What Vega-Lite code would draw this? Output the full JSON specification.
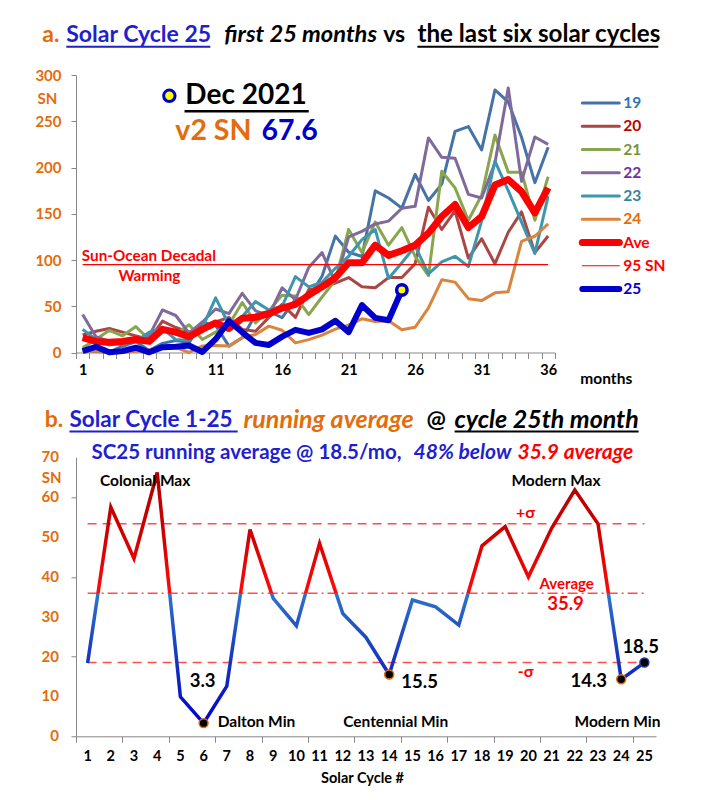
{
"$schema": "https://vega.github.io/schema/vega-lite/v6.json",
"background": "white",
"padding": {"left": 34, "top": 22, "right": 5, "bottom": 5},
"bounds": "flush",
"spacing": 104.3,
"config": {"font": "Lato", "view": {"stroke": null},
           "axis": {"labelOverlap": false, "labelFlush": false, "labelBound": false, "grid": false}},
"vconcat": [
{
 "width": 478.8,
 "height": 277.5,
 "layer": [
  {
   "data": {"values": [{}]},
   "mark": {"type": "point", "opacity": 0},
   "encoding": {
    "x": {"datum": 1, "type": "quantitative",
          "axis": {"orient": "bottom", "title": null, "labels": false, "ticks": true, "tickSize": 6, "domain": true,
                   "domainColor": "#888888", "tickColor": "#888888",
                   "values": [0.5,1.5,2.5,3.5,4.5,5.5,6.5,7.5,8.5,9.5,10.5,11.5,12.5,13.5,14.5,15.5,16.5,17.5,18.5,19.5,20.5,21.5,22.5,23.5,24.5,25.5,26.5,27.5,28.5,29.5,30.5,31.5,32.5,33.5,34.5,35.5,36.5]}},
    "y": {"datum": 0, "type": "quantitative", "axis": null}
   }
  },
  {
   "data": {"values": [
    {"month":1,"c19":2.5,"c20":19,"c21":5,"c22":41,"c23":25,"c24":1.7,"ave":16,"c25":1.5},
    {"month":2,"c19":1.1,"c20":23,"c21":14,"c22":17,"c23":14,"c24":1.3,"ave":12,"c25":6.2},
    {"month":3,"c19":0.3,"c20":26,"c21":24,"c22":12,"c23":8,"c24":1.2,"ave":11,"c25":0.2},
    {"month":4,"c19":6.8,"c20":22,"c21":18,"c22":8,"c23":10,"c24":0.6,"ave":12,"c25":1.5},
    {"month":5,"c19":11.8,"c20":18,"c21":28,"c22":12,"c23":12,"c24":1.2,"ave":14,"c25":5.2},
    {"month":6,"c19":2.1,"c20":14,"c21":14,"c22":18,"c23":22,"c24":2.9,"ave":12,"c25":0.2},
    {"month":7,"c19":9.9,"c20":34,"c21":25,"c22":46,"c23":26,"c24":6.3,"ave":25,"c25":5.8},
    {"month":8,"c19":13.0,"c20":27,"c21":20,"c22":40,"c23":14,"c24":5.5,"ave":22,"c25":6.1},
    {"month":9,"c19":10.7,"c20":22,"c21":30,"c22":21,"c23":13,"c24":0.0,"ave":17,"c25":7.5},
    {"month":10,"c19":32.6,"c20":28,"c21":14,"c22":33,"c23":27,"c24":7.1,"ave":25,"c25":0.6},
    {"month":11,"c19":29.3,"c20":33,"c21":22,"c22":47,"c23":59,"c24":7.7,"ave":32,"c25":14.4},
    {"month":12,"c19":6.9,"c20":38,"c21":30,"c22":42,"c23":30,"c24":6.9,"ave":26,"c25":34.0},
    {"month":13,"c19":15.9,"c20":25,"c21":54,"c22":64,"c23":39,"c24":16.3,"ave":37,"c25":21.8},
    {"month":14,"c19":40.7,"c20":23,"c21":32,"c22":45,"c23":55,"c24":19.5,"ave":38,"c25":10.4},
    {"month":15,"c19":44.7,"c20":38,"c21":45,"c22":40,"c23":46,"c24":28.5,"ave":42,"c25":8.2},
    {"month":16,"c19":37.6,"c20":52,"c21":62,"c22":70,"c23":50,"c24":24.0,"ave":48,"c25":17.2},
    {"month":17,"c19":57.4,"c20":38,"c21":61,"c22":57,"c23":82,"c24":10.4,"ave":52,"c25":24.5},
    {"month":18,"c19":60.2,"c20":68,"c21":41,"c22":92,"c23":71,"c24":13.9,"ave":62,"c25":21.2},
    {"month":19,"c19":82.5,"c20":70,"c21":60,"c22":108,"c23":76,"c24":18.8,"ave":71,"c25":25.0},
    {"month":20,"c19":125.8,"c20":75,"c21":78,"c22":76,"c23":91,"c24":25.2,"ave":81,"c25":34.3},
    {"month":21,"c19":108.4,"c20":81,"c21":133,"c22":125,"c23":104,"c24":29.6,"ave":97,"c25":22.0},
    {"month":22,"c19":103.8,"c20":71,"c21":108,"c22":131,"c23":122,"c24":36.4,"ave":97,"c25":51.3},
    {"month":23,"c19":174.8,"c20":70,"c21":141,"c22":139,"c23":133,"c24":33.6,"ave":116,"c25":37.4},
    {"month":24,"c19":167.0,"c20":81,"c21":116,"c22":142,"c23":80,"c24":34.4,"ave":105,"c25":34.8},
    {"month":25,"c19":156.1,"c20":81,"c21":135,"c22":156,"c23":97,"c24":24.5,"ave":110,"c25":67.6},
    {"month":26,"c19":192.6,"c20":96,"c21":104,"c22":158,"c23":115,"c24":27.3,"ave":116},
    {"month":27,"c19":164.4,"c20":157,"c21":83,"c22":232,"c23":85,"c24":48.3,"ave":129},
    {"month":28,"c19":182.0,"c20":133,"c21":196,"c22":211,"c23":98,"c24":78.6,"ave":147},
    {"month":29,"c19":239.1,"c20":153,"c21":178,"c22":210,"c23":104,"c24":76.1,"ave":160},
    {"month":30,"c19":244.2,"c20":102,"c21":143,"c22":171,"c23":93,"c24":58.2,"ave":135},
    {"month":31,"c19":219.0,"c20":123,"c21":170,"c22":167,"c23":142,"c24":56.1,"ave":147},
    {"month":32,"c19":283.8,"c20":96,"c21":235,"c22":205,"c23":207,"c24":64.5,"ave":181},
    {"month":33,"c19":270.9,"c20":130,"c21":195,"c22":286,"c23":175,"c24":65.8,"ave":187},
    {"month":34,"c19":232.7,"c20":152,"c21":195,"c22":185,"c23":141,"c24":120.1,"ave":174},
    {"month":35,"c19":183.6,"c20":108,"c21":143,"c22":233,"c23":107,"c24":125.7,"ave":151},
    {"month":36,"c19":221.9,"c20":126,"c21":190,"c22":225,"c23":169,"c24":139.1,"ave":178}
   ]},
   "layer": [
    {
     "transform": [{"fold": ["c19","c20","c21","c22","c23","c24"], "as": ["cycle","sn"]}],
     "mark": {"type": "line", "strokeWidth": 3, "strokeJoin": "round"},
     "encoding": {
      "x": {"field": "month", "type": "quantitative", "title": null,
            "scale": {"domain": [0.5, 36.5], "nice": false, "zero": false},
            "axis": {"orient": "bottom", "values": [1,6,11,16,21,26,31,36],
                     "ticks": false, "tickSize": 0, "domain": false, "grid": false,
                     "labelFontSize": 14.5, "labelFontWeight": "bold", "labelColor": "black",
                     "labelPadding": 11}},
      "y": {"field": "sn", "type": "quantitative", "title": null,
            "scale": {"domain": [0, 300], "nice": false},
            "axis": {"values": [0,50,100,150,200,250,300], "grid": false, "tickSize": 5,
                     "labelFontSize": 15, "labelFontWeight": "bold", "labelColor": "#e46c0a",
                     "labelPadding": 10, "domainColor": "#888888", "tickColor": "#888888"}},
      "color": {"field": "cycle", "type": "nominal", "legend": null,
                "scale": {"domain": ["c19","c20","c21","c22","c23","c24"],
                          "range": ["#4572a7","#aa4643","#89a54e","#80699b","#3d96ae","#db843d"]}}
     }
    },
    {
     "data": {"values": [{}]},
     "mark": {"type": "rule", "color": "#ff0000", "strokeWidth": 1.2},
     "encoding": {"x": {"datum": 1}, "x2": {"datum": 36}, "y": {"datum": 95}}
    },
    {
     "mark": {"type": "line", "strokeWidth": 7, "color": "#ff0000", "strokeJoin": "round"},
     "encoding": {"x": {"field": "month", "type": "quantitative", "title": null},
                  "y": {"field": "ave", "type": "quantitative", "title": null}}
    },
    {
     "transform": [{"filter": "isValid(datum.c25)"}],
     "mark": {"type": "line", "strokeWidth": 6, "color": "#0000cc", "strokeJoin": "round"},
     "encoding": {"x": {"field": "month", "type": "quantitative", "title": null},
                  "y": {"field": "c25", "type": "quantitative", "title": null}}
    },
    {
     "transform": [{"filter": "datum.month == 25"}],
     "mark": {"type": "point", "filled": true, "fill": "#ffff00", "stroke": "#0000cc", "strokeWidth": 3.5, "size": 110, "opacity": 1},
     "encoding": {"x": {"field": "month", "type": "quantitative", "title": null},
                  "y": {"field": "c25", "type": "quantitative", "title": null}}
    },
    {
     "data": {"values": [{}]},
     "mark": {"type": "point", "filled": true, "fill": "#ffff00", "stroke": "#0000cc", "strokeWidth": 3, "size": 130, "opacity": 1},
     "encoding": {"x": {"datum": 7.52}, "y": {"datum": 277.5}}
    },
    {
     "data": {"values": [{}]},
     "mark": {"type": "text", "text": "Dec 2021", "align": "left", "baseline": "middle", "fontSize": 28, "fontWeight": "bold", "color": "black"},
     "encoding": {"x": {"datum": 8.72}, "y": {"datum": 277.5}}
    },
    {
     "data": {"values": [{}]},
     "mark": {"type": "rule", "color": "black", "strokeWidth": 2.5},
     "encoding": {"x": {"datum": 8.66}, "x2": {"datum": 18.0}, "y": {"datum": 260.8}}
    },
    {
     "data": {"values": [{}]},
     "mark": {"type": "text", "text": "v2 SN", "align": "left", "baseline": "middle", "fontSize": 28.5, "fontWeight": "bold", "color": "#e46c0a"},
     "encoding": {"x": {"datum": 7.97}, "y": {"datum": 239.7}}
    },
    {
     "data": {"values": [{}]},
     "mark": {"type": "text", "text": "67.6", "align": "left", "baseline": "middle", "fontSize": 28.5, "fontWeight": "bold", "color": "#0000cc"},
     "encoding": {"x": {"datum": 14.45}, "y": {"datum": 239.7}}
    },
    {
     "data": {"values": [{}]},
     "mark": {"type": "text", "text": "Sun-Ocean Decadal", "align": "center", "baseline": "middle", "fontSize": 15.3, "fontWeight": "bold", "color": "#ff0000"},
     "encoding": {"x": {"datum": 5.98}, "y": {"datum": 104}}
    },
    {
     "data": {"values": [{}]},
     "mark": {"type": "text", "text": "Warming", "align": "center", "baseline": "middle", "fontSize": 15.3, "fontWeight": "bold", "color": "#ff0000"},
     "encoding": {"x": {"datum": 6.02}, "y": {"datum": 83}}
    },
    {
     "data": {"values": [{}]},
     "mark": {"type": "text", "text": "SN", "align": "center", "baseline": "middle", "fontSize": 15, "fontWeight": "bold", "color": "#e46c0a"},
     "encoding": {"x": {"datum": -1.65}, "y": {"datum": 274}}
    },
    {
     "data": {"values": [{}]},
     "mark": {"type": "text", "text": "months", "align": "center", "baseline": "middle", "fontSize": 15.5, "fontWeight": "bold", "color": "black"},
     "encoding": {"x": {"datum": 40.37}, "y": {"datum": -28.4}}
    },
    {
     "data": {"values": [{}]},
     "mark": {"type": "text", "text": "a.", "align": "left", "baseline": "middle", "fontSize": 23, "fontWeight": "bold", "color": "#e46c0a"},
     "encoding": {"x": {"datum": -2.03}, "y": {"datum": 343.5}}
    },
    {
     "data": {"values": [{}]},
     "mark": {"type": "text", "text": "Solar Cycle 25", "align": "left", "baseline": "middle", "fontSize": 23, "fontWeight": "bold", "color": "#1f1fcf"},
     "encoding": {"x": {"datum": -0.23}, "y": {"datum": 343.5}}
    },
    {
     "data": {"values": [{}]},
     "mark": {"type": "text", "text": "first 25 months", "align": "left", "baseline": "middle", "fontSize": 23.7, "fontWeight": "bold", "fontStyle": "italic", "color": "black"},
     "encoding": {"x": {"datum": 11.65}, "y": {"datum": 343.5}}
    },
    {
     "data": {"values": [{}]},
     "mark": {"type": "text", "text": "vs", "align": "left", "baseline": "middle", "fontSize": 23, "fontWeight": "bold", "color": "black"},
     "encoding": {"x": {"datum": 23.6}, "y": {"datum": 343.5}}
    },
    {
     "data": {"values": [{}]},
     "mark": {"type": "text", "text": "the last six solar cycles", "align": "left", "baseline": "middle", "fontSize": 24.2, "fontWeight": "bold", "color": "black"},
     "encoding": {"x": {"datum": 26.17}, "y": {"datum": 343.5}}
    },
    {
     "data": {"values": [{}]},
     "mark": {"type": "rule", "color": "#1f1fcf", "strokeWidth": 2},
     "encoding": {"x": {"datum": -0.23}, "x2": {"datum": 10.6}, "y": {"datum": 330.5}}
    },
    {
     "data": {"values": [{}]},
     "mark": {"type": "rule", "color": "black", "strokeWidth": 2},
     "encoding": {"x": {"datum": 26.17}, "x2": {"datum": 44.28}, "y": {"datum": 330.5}}
    }
   ]
  },
  {
   "data": {"values": [{"name":"19"},{"name":"20"},{"name":"21"},{"name":"22"},{"name":"23"},{"name":"24"},{"name":"Ave"},{"name":"95 SN"},{"name":"25"}]},
   "layer": [
    {
     "mark": {"type": "rule", "strokeCap": "round"},
     "encoding": {
      "x": {"datum": 38.57, "axis": null}, "x2": {"datum": 41.35},
      "y": {"field": "name", "type": "nominal", "axis": null,
            "scale": {"type": "point", "padding": 0, "domain": ["19","20","21","22","23","24","Ave","95 SN","25"], "range": [28, 214]}},
      "color": {"field": "name", "type": "nominal", "legend": null,
                "scale": {"type": "ordinal", "domain": ["19","20","21","22","23","24","Ave","95 SN","25"],
                          "range": ["#4572a7","#aa4643","#89a54e","#80699b","#3d96ae","#db843d","#ff0000","#ff0000","#0000cc"]}},
      "strokeWidth": {"field": "name", "type": "nominal", "legend": null,
                "scale": {"type": "ordinal", "domain": ["19","20","21","22","23","24","Ave","95 SN","25"],
                          "range": [3,3,3,3,3,3,7,1.2,6]}}
     }
    },
    {
     "mark": {"type": "text", "align": "left", "baseline": "middle", "fontSize": 15.5, "fontWeight": "bold"},
     "encoding": {
      "x": {"datum": 41.65, "axis": null},
      "y": {"field": "name", "type": "nominal", "axis": null},
      "text": {"field": "name"},
      "color": {"field": "name", "type": "nominal", "legend": null,
                "scale": {"type": "ordinal", "domain": ["19","20","21","22","23","24","Ave","95 SN","25"],
                          "range": ["#2e75b6","#c00000","#77933c","#7030a0","#31859c","#e36c09","#ff0000","#ff0000","#0000cc"]}}
     }
    }
   ],
   "resolve": {"scale": {"color": "independent"}}
  }
 ],
 "resolve": {"scale": {"y": "independent", "color": "independent"}, "axis": {"x": "independent"}}
},
{
 "width": 580,
 "height": 279,
 "layer": [
  {
   "data": {"values": [{"level": 53.3}, {"level": 18.5}]},
   "mark": {"type": "rule", "color": "#ff4d4d", "strokeWidth": 1.5, "strokeDash": [9, 6]},
   "encoding": {"y": {"field": "level", "type": "quantitative", "title": null}, "x": {"datum": 1}, "x2": {"datum": 25}}
  },
  {
   "data": {"values": [{"level": 35.9}]},
   "mark": {"type": "rule", "color": "#ff4d4d", "strokeWidth": 1.5, "strokeDash": [10, 4, 2, 4]},
   "encoding": {"y": {"field": "level", "type": "quantitative", "title": null}, "x": {"datum": 1}, "x2": {"datum": 25}}
  },
  {
   "data": {"name": "running"},
   "mark": {"type": "line", "strokeWidth": 3.5,
            "color": {"gradient": "linear", "x1": 0, "y1": 0, "x2": 0, "y2": 1,
                      "stops": [{"offset": 0, "color": "#b00000"}, {"offset": 0.25, "color": "#d00000"},
                                {"offset": 0.481, "color": "#ff0a0a"}, {"offset": 0.482, "color": "#2f74c8"},
                                {"offset": 0.7, "color": "#1a40c0"}, {"offset": 1, "color": "#0000cc"}]}},
   "encoding": {
    "x": {"field": "cycle", "type": "quantitative", "title": null,
          "scale": {"domain": [0.5, 25.5], "nice": false, "zero": false},
          "axis": {"orient": "bottom", "title": null, "labels": false, "ticks": true, "tickSize": 6, "domain": true,
                   "domainColor": "#888888", "tickColor": "#888888", "grid": false,
                   "values": [0.5,1.5,2.5,3.5,4.5,5.5,6.5,7.5,8.5,9.5,10.5,11.5,12.5,13.5,14.5,15.5,16.5,17.5,18.5,19.5,20.5,21.5,22.5,23.5,24.5,25.5]}},
    "y": {"field": "sn", "type": "quantitative", "title": null,
          "scale": {"domain": [0, 70], "nice": false},
          "axis": {"orient": "left", "title": null, "labels": false, "ticks": true, "tickSize": 5, "domain": true,
                   "domainColor": "#888888", "tickColor": "#888888", "grid": false,
                   "values": [0,5,10,15,20,25,30,35,40,45,50,55,60,65,70]}}
   }
  },
  {
   "data": {"name": "running"},
   "mark": {"type": "text", "align": "center", "baseline": "middle", "fontSize": 14.5, "fontWeight": "bold", "color": "black"},
   "encoding": {"x": {"field": "cycle", "type": "quantitative"}, "y": {"datum": -5.27}, "text": {"field": "cycle", "type": "quantitative"}}
  },
  {
   "data": {"values": [{"tick": 0}, {"tick": 10}, {"tick": 20}, {"tick": 30}, {"tick": 40}, {"tick": 50}, {"tick": 60}, {"tick": 70}]},
   "mark": {"type": "text", "align": "right", "baseline": "middle", "fontSize": 15, "fontWeight": "bold", "color": "#e46c0a"},
   "encoding": {"x": {"datum": -0.24}, "y": {"field": "tick", "type": "quantitative"}, "text": {"field": "tick", "type": "quantitative"}}
  },
  {"data": {"values": [{}]}, "mark": {"type": "text", "text": "Solar Cycle #", "align": "center", "baseline": "middle", "fontSize": 14.5, "fontWeight": "bold", "color": "black"},
   "encoding": {"x": {"datum": 12.85}, "y": {"datum": -10.8}}},
  {
   "data": {"name": "running"},
   "transform": [{"filter": "datum.cycle == 6 || datum.cycle == 14 || datum.cycle == 24"}],
   "mark": {"type": "point", "filled": true, "fill": "black", "stroke": "#e46c0a", "strokeWidth": 1.5, "size": 80, "opacity": 1},
   "encoding": {"x": {"field": "cycle", "type": "quantitative"}, "y": {"field": "sn", "type": "quantitative"}}
  },
  {
   "data": {"name": "running"},
   "transform": [{"filter": "datum.cycle == 25"}],
   "mark": {"type": "point", "filled": true, "fill": "black", "stroke": "#1f3a93", "strokeWidth": 1.5, "size": 80, "opacity": 1},
   "encoding": {"x": {"field": "cycle", "type": "quantitative"}, "y": {"field": "sn", "type": "quantitative"}}
  },
  {"data": {"values": [{}]}, "mark": {"type": "text", "text": "Colonial Max", "align": "center", "baseline": "middle", "fontSize": 15.5, "fontWeight": "bold", "color": "black"},
   "encoding": {"x": {"datum": 3.48}, "y": {"datum": 64.0}}},
  {"data": {"values": [{}]}, "mark": {"type": "text", "text": "Modern Max", "align": "center", "baseline": "middle", "fontSize": 15.5, "fontWeight": "bold", "color": "black"},
   "encoding": {"x": {"datum": 21.19}, "y": {"datum": 64.0}}},
  {"data": {"values": [{}]}, "mark": {"type": "text", "text": "+σ", "align": "center", "baseline": "middle", "fontSize": 16, "fontWeight": "bold", "color": "#ff0000"},
   "encoding": {"x": {"datum": 19.88}, "y": {"datum": 55.9}}},
  {"data": {"values": [{}]}, "mark": {"type": "text", "text": "Average", "align": "center", "baseline": "middle", "fontSize": 15, "fontWeight": "bold", "color": "#ff0000"},
   "encoding": {"x": {"datum": 21.65}, "y": {"datum": 38.1}}},
  {"data": {"values": [{}]}, "mark": {"type": "text", "text": "35.9", "align": "center", "baseline": "middle", "fontSize": 18.5, "fontWeight": "bold", "color": "#ff0000"},
   "encoding": {"x": {"datum": 21.6}, "y": {"datum": 33.1}}},
  {"data": {"values": [{}]}, "mark": {"type": "text", "text": "-σ", "align": "center", "baseline": "middle", "fontSize": 16, "fontWeight": "bold", "color": "#ff0000"},
   "encoding": {"x": {"datum": 19.88}, "y": {"datum": 16.1}}},
  {"data": {"values": [{}]}, "mark": {"type": "text", "text": "3.3", "align": "center", "baseline": "middle", "fontSize": 18.5, "fontWeight": "bold", "color": "black"},
   "encoding": {"x": {"datum": 5.96}, "y": {"datum": 13.8}}},
  {"data": {"values": [{}]}, "mark": {"type": "text", "text": "Dalton Min", "align": "center", "baseline": "middle", "fontSize": 15.5, "fontWeight": "bold", "color": "black"},
   "encoding": {"x": {"datum": 8.28}, "y": {"datum": 3.6}}},
  {"data": {"values": [{}]}, "mark": {"type": "text", "text": "Centennial Min", "align": "center", "baseline": "middle", "fontSize": 15.5, "fontWeight": "bold", "color": "black"},
   "encoding": {"x": {"datum": 14.28}, "y": {"datum": 3.6}}},
  {"data": {"values": [{}]}, "mark": {"type": "text", "text": "15.5", "align": "center", "baseline": "middle", "fontSize": 18.5, "fontWeight": "bold", "color": "black"},
   "encoding": {"x": {"datum": 15.31}, "y": {"datum": 13.6}}},
  {"data": {"values": [{}]}, "mark": {"type": "text", "text": "14.3", "align": "center", "baseline": "middle", "fontSize": 18.5, "fontWeight": "bold", "color": "black"},
   "encoding": {"x": {"datum": 22.6}, "y": {"datum": 14.0}}},
  {"data": {"values": [{}]}, "mark": {"type": "text", "text": "18.5", "align": "center", "baseline": "middle", "fontSize": 18.5, "fontWeight": "bold", "color": "black"},
   "encoding": {"x": {"datum": 24.84}, "y": {"datum": 22.4}}},
  {"data": {"values": [{}]}, "mark": {"type": "text", "text": "Modern Min", "align": "center", "baseline": "middle", "fontSize": 15.5, "fontWeight": "bold", "color": "black"},
   "encoding": {"x": {"datum": 23.84}, "y": {"datum": 3.6}}},
  {"data": {"values": [{}]}, "mark": {"type": "text", "text": "b.", "align": "left", "baseline": "middle", "fontSize": 23, "fontWeight": "bold", "color": "#e46c0a"},
   "encoding": {"x": {"datum": -0.85}, "y": {"datum": 79.3}}},
  {"data": {"values": [{}]}, "mark": {"type": "text", "text": "Solar Cycle 1-25", "align": "left", "baseline": "middle", "fontSize": 22.5, "fontWeight": "bold", "color": "#1f1fcf"},
   "encoding": {"x": {"datum": 0.22}, "y": {"datum": 79.3}}},
  {"data": {"values": [{}]}, "mark": {"type": "text", "text": "running average", "align": "left", "baseline": "middle", "fontSize": 25, "fontWeight": "bold", "fontStyle": "italic", "color": "#e46c0a"},
   "encoding": {"x": {"datum": 7.72}, "y": {"datum": 79.3}}},
  {"data": {"values": [{}]}, "mark": {"type": "text", "text": "@", "align": "left", "baseline": "middle", "fontSize": 23, "fontWeight": "bold", "color": "black"},
   "encoding": {"x": {"datum": 15.61}, "y": {"datum": 79.3}}},
  {"data": {"values": [{}]}, "mark": {"type": "text", "text": "cycle 25th month", "align": "left", "baseline": "middle", "fontSize": 25, "fontWeight": "bold", "fontStyle": "italic", "color": "black"},
   "encoding": {"x": {"datum": 16.82}, "y": {"datum": 79.3}}},
  {"data": {"values": [{}]}, "mark": {"type": "rule", "color": "#1f1fcf", "strokeWidth": 2},
   "encoding": {"x": {"datum": 0.22}, "x2": {"datum": 7.47}, "y": {"datum": 76.5}}},
  {"data": {"values": [{}]}, "mark": {"type": "rule", "color": "black", "strokeWidth": 2},
   "encoding": {"x": {"datum": 16.82}, "x2": {"datum": 24.75}, "y": {"datum": 76.5}}},
  {"data": {"values": [{}]}, "mark": {"type": "text", "text": "SC25 running average @ 18.5/mo,", "align": "left", "baseline": "middle", "fontSize": 20.5, "fontWeight": "bold", "color": "#1f1fcf"},
   "encoding": {"x": {"datum": 1.17}, "y": {"datum": 71.2}}},
  {"data": {"values": [{}]}, "mark": {"type": "text", "text": "48% below", "align": "left", "baseline": "middle", "fontSize": 21, "fontWeight": "bold", "fontStyle": "italic", "color": "#1f1fcf"},
   "encoding": {"x": {"datum": 15.05}, "y": {"datum": 71.2}}},
  {"data": {"values": [{}]}, "mark": {"type": "text", "text": "35.9 average", "align": "left", "baseline": "middle", "fontSize": 21, "fontWeight": "bold", "fontStyle": "italic", "color": "#ff0000"},
   "encoding": {"x": {"datum": 19.53}, "y": {"datum": 71.2}}},
  {"data": {"values": [{}]}, "mark": {"type": "text", "text": "SN", "align": "center", "baseline": "middle", "fontSize": 15, "fontWeight": "bold", "color": "#e46c0a"},
   "encoding": {"x": {"datum": -0.55}, "y": {"datum": 64.7}}}
 ]
}
],
"datasets": {
 "running": [
  {"cycle": 1, "sn": 18.4}, {"cycle": 2, "sn": 57.5}, {"cycle": 3, "sn": 44.6}, {"cycle": 4, "sn": 66.2},
  {"cycle": 5, "sn": 9.9}, {"cycle": 6, "sn": 3.3}, {"cycle": 7, "sn": 12.6}, {"cycle": 8, "sn": 51.9},
  {"cycle": 9, "sn": 34.6}, {"cycle": 10, "sn": 27.7}, {"cycle": 11, "sn": 48.4}, {"cycle": 12, "sn": 30.8},
  {"cycle": 13, "sn": 24.8}, {"cycle": 14, "sn": 15.5}, {"cycle": 15, "sn": 34.2}, {"cycle": 16, "sn": 32.5},
  {"cycle": 17, "sn": 27.9}, {"cycle": 18, "sn": 47.8}, {"cycle": 19, "sn": 52.6}, {"cycle": 20, "sn": 40.0},
  {"cycle": 21, "sn": 52.2}, {"cycle": 22, "sn": 61.8}, {"cycle": 23, "sn": 53.3}, {"cycle": 24, "sn": 14.3},
  {"cycle": 25, "sn": 18.5}
 ]
}
}
